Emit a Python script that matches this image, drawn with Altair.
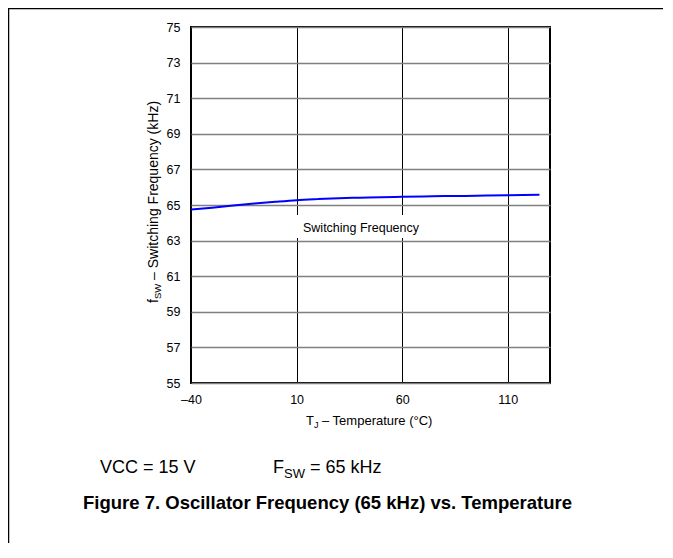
import altair as alt
import pandas as pd

# ---- data ----
temps_c = [-40, -30, -20, -10, 0, 10, 20, 30, 40, 50, 60, 70, 80, 90, 100, 110, 125]
fsw_khz = [64.75, 64.85, 64.97, 65.08, 65.18, 65.27, 65.33, 65.38, 65.41, 65.44,
           65.46, 65.48, 65.50, 65.51, 65.53, 65.55, 65.58]
x_ticks = [-40, 10, 60, 110]
y_ticks = [55, 57, 59, 61, 63, 65, 67, 69, 71, 73, 75]
series_label = "Switching Frequency"
cond_vcc = "VCC = 15 V"
cond_f_main = "F"
cond_f_sub = "SW"
cond_f_rest = "= 65 kHz"
fig_title = "Figure 7. Oscillator Frequency (65 kHz) vs. Temperature"
ytitle_main, ytitle_sub, ytitle_rest = "f", "SW", "– Switching Frequency (kHz)"
xtitle_main, xtitle_sub, xtitle_rest = "T", "J", "– Temperature (°C)"

FONT = "Liberation Sans"
W, H = 359, 356

df = pd.DataFrame({"T": temps_c, "F": fsw_khz})
one = pd.DataFrame({"k": [0]})

x_enc = alt.X(
    "T:Q",
    scale=alt.Scale(domain=[-40, 130], nice=False, zero=False),
    axis=alt.Axis(values=x_ticks, title=None, ticks=False, domain=False,
                  labelFont=FONT, labelFontSize=12.5, labelColor="black",
                  labelPadding=10, labelFlush=False, labelOverlap=False,
                  gridColor="black", gridWidth=1, gridOpacity=1,
                  labelExpr="datum.value < 0 ? '–' + format(-datum.value, 'd') : format(datum.value, 'd')"),
)
y_enc = alt.Y(
    "F:Q",
    scale=alt.Scale(domain=[55, 75], nice=False, zero=False),
    axis=alt.Axis(values=y_ticks, title=None, ticks=False, domain=False,
                  labelFont=FONT, labelFontSize=12.5, labelColor="black",
                  labelPadding=11, labelFlush=False, labelOverlap=False,
                  gridColor="#808080", gridWidth=1.5, gridOpacity=1),
)

line = alt.Chart(df).mark_line(color="#0000ff", strokeWidth=2, interpolate="monotone").encode(
    x=x_enc, y=y_enc
)


def txt(s, x, y, size, angle=0, weight="normal", align="left"):
    kw = dict(text=s, font=FONT, fontSize=size, align=align, baseline="alphabetic",
              fontWeight=weight, color="black")
    if angle:
        kw["angle"] = angle
    return alt.Chart(one).mark_text(**kw).encode(x=alt.value(x), y=alt.value(y))


label_box = alt.Chart(one).mark_rect(color="white").encode(
    x=alt.value(103), x2=alt.value(241), y=alt.value(188), y2=alt.value(211)
)
label_txt = txt(series_label, 112, 205, 12.5)

# page border lines (top and left)
top_rule = alt.Chart(one).mark_rule(color="black", strokeWidth=1.5).encode(
    x=alt.value(-183), x2=alt.value(482), y=alt.value(-18.5)
)
left_rule = alt.Chart(one).mark_rule(color="black", strokeWidth=1.5).encode(
    x=alt.value(-182.5), y=alt.value(-19), y2=alt.value(540)
)

# y-axis title pieces (rotated)
y0 = 276
yt1 = txt(ytitle_main, -33.5, y0, 14, angle=270)
yt2 = txt(ytitle_sub, -30, y0 - 3.9, 9.5, angle=270)
yt3 = txt(ytitle_rest, -33.5, y0 - 3.9 - 15.3 - 3.9, 14, angle=270)

# x-axis title pieces
x0 = 115
xt1 = txt(xtitle_main, x0, 398, 13)
xt2 = txt(xtitle_sub, x0 + 7.9, 401, 9)
xt3 = txt(xtitle_rest, x0 + 7.9 + 4.5 + 3.6, 398, 13)

# bottom texts
c1 = txt(cond_vcc, -91, 446, 18)
c2 = txt(cond_f_main, 82, 446, 18)
c3 = txt(cond_f_sub, 93, 450.5, 13)
c4 = txt(cond_f_rest, 119, 446, 18)
ttl = txt(fig_title, -108, 482, 18.5, weight="bold")

chart = alt.layer(
    line, label_box, label_txt, top_rule, left_rule,
    yt1, yt2, yt3, xt1, xt2, xt3, c1, c2, c3, c4, ttl
).properties(
    width=W, height=H,
    autosize=alt.AutoSizeParams(type="none"),
    padding={"left": 183, "top": 19, "right": 113, "bottom": 160},
    background="white",
).configure_view(stroke="black", strokeWidth=2)

chart.save("out.html", embed_options={"renderer": "svg", "actions": False})
